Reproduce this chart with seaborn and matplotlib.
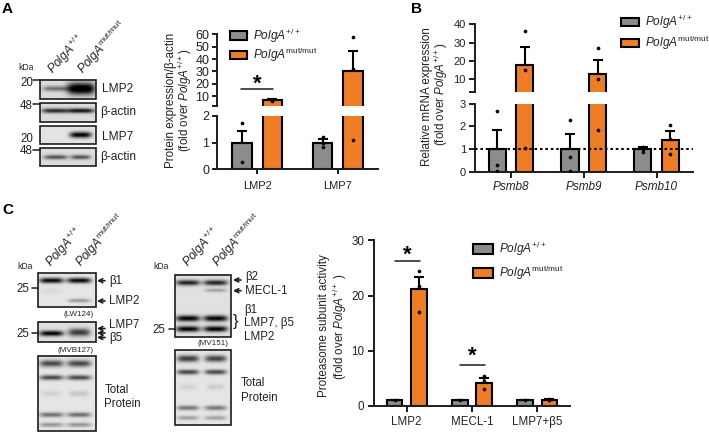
import numpy as np
import pandas as pd
import matplotlib
matplotlib.use("Agg")
import matplotlib.pyplot as plt
from matplotlib.patches import Patch, Rectangle
import seaborn as sns

sns.set_theme(style="ticks")
plt.rcParams.update({
    "font.family": ["Liberation Sans", "DejaVu Sans"],
    "mathtext.fontset": "custom",
    "mathtext.rm": "Liberation Sans",
    "mathtext.it": "Liberation Sans:italic",
    "mathtext.bf": "Liberation Sans:bold",
    "text.color": "#222222",
})

W, H = 709, 434
GENO = ["wt", "mut"]
WT_LABEL = r"$\mathit{PolgA}^{+/+}$"
MUT_LABEL = r"$\mathit{PolgA}^{\mathrm{mut/mut}}$"
GRAY, ORANGE, INK = "#8c8c8c", "#ee7d26", "#1c1c1c"

# Panel A values
a_groups = ["LMP2", "LMP7"]
a_wt = [1.0, 1.0]
a_mut = [6.5, 30.3]
a_wt_top = [1.43, 1.12]
a_mut_top = [7.5, 46.7]
a_wt_pts = [[1.72, 0.25], [1.2, 1.0, 0.83]]
a_mut_pts = [[7.0, 6.2], [58.0, 32.0, 1.11]]

# Panel B values
b_groups = ["Psmb8", "Psmb9", "Psmb10"]
b_wt = [1.0, 1.0, 1.0]
b_mut = [17.6, 12.9, 1.42]
b_wt_top = [1.85, 1.65, 1.07]
b_mut_top = [27.8, 20.4, 1.8]
b_wt_pts = [[2.68, 0.28, 0.03], [2.27, 0.63, 0.05], [1.1, 0.88, 1.02]]
b_mut_pts = [[36.3, 15.4, 1.05], [26.9, 10.2, 1.83], [2.05, 1.45, 0.78]]

# Panel C values
c_groups = ["LMP2", "MECL-1", "LMP7+β5"]
c_wt = [1.0, 1.0, 1.0]
c_mut = [21.2, 4.2, 1.1]
c_wt_top = [1.1, 1.1, 1.1]
c_mut_top = [23.4, 5.0, 1.3]
c_wt_pts = [[1.0], [1.0], [1.0]]
c_mut_pts = [[24.5, 21.8, 17.0], [5.4, 4.5, 3.0], [1.25, 1.1, 1.0]]


def rect(l, t, r, b):
    return [l / W, 1 - b / H, (r - l) / W, (b - t) / H]


fig = plt.figure(figsize=(W / 100, H / 100), dpi=100)
pix = fig.add_axes([0, 0, 1, 1], zorder=5)
pix.patch.set_alpha(0)
pix.axis("off")


def bars(ax, lim, groups, wt, mut, wt_top, mut_top, wt_pts, mut_pts, width, gap, lw):
    df = pd.DataFrame({
        "group": groups * 2,
        "genotype": ["wt"] * len(groups) + ["mut"] * len(groups),
        "value": list(wt) + list(mut),
    })
    sns.barplot(data=df, x="group", y="value", hue="genotype", hue_order=GENO,
                order=groups, palette={"wt": GRAY, "mut": ORANGE}, saturation=1,
                width=width, gap=gap, edgecolor="black", linewidth=lw,
                errorbar=None, legend=False, ax=ax)
    patches = [p for p in ax.patches if p.get_width() > 0]
    n = len(groups)
    for k, (tops, pts) in enumerate([(wt_top, wt_pts), (mut_top, mut_pts)]):
        for i in range(n):
            p = patches[k * n + i]
            xc = p.get_x() + p.get_width() / 2
            mean = p.get_height()
            if mean < lim[0]:
                p.set_visible(False)
            if lim[0] <= tops[i] and mean <= lim[1]:
                ax.errorbar([xc], [mean], yerr=[[0], [tops[i] - mean]], color="black",
                            lw=lw, capsize=3.7, capthick=lw, zorder=4)
            shown = [v for v in pts[i] if lim[0] <= v <= lim[1]]
            ax.scatter([xc] * len(shown), shown, s=7, color="black", zorder=6,
                       linewidths=0)
    ax.set_xlabel("")
    ax.set_ylabel("")
    ax.set_xlim(-0.5, n - 0.5)


def style(ax, size=8.3, lw=1.4, tl=4.3):
    sns.despine(ax=ax)
    for s in ax.spines.values():
        s.set_linewidth(lw)
        s.set_color(INK)
    ax.tick_params(axis="both", length=tl, width=lw, color=INK, labelsize=size,
                   labelcolor="#222222", pad=2)
    ax.patch.set_alpha(0)


def broken(box_hi, box_lo, lo_lim, hi_lim, lo_ticks, hi_ticks, data, width, gap,
           size, xsize, xpad, tl, italic=False):
    lo = fig.add_axes(rect(*box_lo))
    hi = fig.add_axes(rect(*box_hi))
    for ax, lim in ((lo, lo_lim), (hi, hi_lim)):
        bars(ax, lim, *data, width, gap, 1.5)
        style(ax, size=size, tl=tl)
    lo.set_ylim(*lo_lim)
    hi.set_ylim(*hi_lim)
    lo.set_yticks(lo_ticks)
    hi.set_yticks(hi_ticks)
    hi.set_yticklabels([""] + [str(t) for t in hi_ticks[1:]])
    hi.spines["bottom"].set_visible(False)
    hi.tick_params(axis="x", bottom=False, labelbottom=False)
    lo.tick_params(axis="x", pad=xpad, labelsize=xsize)
    if italic:
        for t in lo.get_xticklabels():
            t.set_fontstyle("italic")
    return lo, hi


def legend(x, y, spacing, hl, hh):
    fig.legend(handles=[Patch(facecolor=GRAY, edgecolor="black", linewidth=1.5, label=WT_LABEL),
                        Patch(facecolor=ORANGE, edgecolor="black", linewidth=1.5, label=MUT_LABEL)],
               loc="upper left", bbox_to_anchor=(x / W, 1 - y / H), frameon=False,
               fontsize=8.6, labelspacing=spacing, handlelength=hl, handleheight=hh,
               handletextpad=0.48, borderpad=0, borderaxespad=0)


# Panel A chart
a_lo, a_hi = broken((217, 34.3, 378, 106), (217, 116, 378, 169), (0, 2), (2, 60),
                    [0, 1, 2], [2, 10, 20, 30, 40, 50, 60],
                    (a_groups, a_wt, a_mut, a_wt_top, a_mut_top, a_wt_pts, a_mut_pts), 0.75, 0.36,
                    size=9, xsize=8, xpad=5, tl=3.6)
legend(230, 26.5, 0.1, 1.43, 0.71)

# Panel B chart
b_lo, b_hi = broken((474.7, 24.3, 693, 92.3), (474.7, 103.7, 693, 171.7), (0, 3), (3, 40),
                    [0, 1, 2, 3], [3, 10, 20, 30, 40],
                    (b_groups, b_wt, b_mut, b_wt_top, b_mut_top, b_wt_pts, b_mut_pts), 0.76, 0.38,
                    size=8, xsize=8.5, xpad=2.5, tl=4.3, italic=True)
b_lo.axhline(1, color="black", lw=1.5, ls=(0, (1.2, 1.4)), zorder=7)
legend(621, 13, 0.235, 1.5, 0.71)

# Panel C chart
c_ax = fig.add_axes(rect(374, 240.3, 570, 406))
bars(c_ax, (0, 30), c_groups, c_wt, c_mut, c_wt_top, c_mut_top, c_wt_pts, c_mut_pts, 0.74, 0.35, 1.5)
style(c_ax, size=8.4)
c_ax.set_ylim(0, 30)
c_ax.set_yticks([0, 10, 20, 30])
c_ax.tick_params(axis="x", pad=3, labelsize=8.3)
c_ax.tick_params(axis="y", pad=2.7)
legend(473, 240, 0.47, 1.68, 0.84)


def txt(x, y, s, size=8.3, **kw):
    kw.setdefault("ha", "left")
    kw.setdefault("va", "center")
    pix.text(x, y, s, fontsize=size, **kw)


def blot(box, bands, bg=0.86):
    l, t, r, b = box
    xs = np.linspace(l, r, int((r - l) * 3))
    ys = np.linspace(t, b, int((b - t) * 3))
    X, Y = np.meshgrid(xs, ys)
    img = np.full(X.shape, float(bg))
    for cx, cy, hw, sy, d in bands:
        img -= d * np.exp(-((X - cx) / hw) ** 4) * np.exp(-((Y - cy) / sy) ** 2)
    pix.imshow(np.clip(img, 0, 1), cmap="gray", vmin=0, vmax=1, extent=(l, r, b, t),
               aspect="auto", interpolation="bilinear", zorder=1)
    pix.add_patch(Rectangle((l, t), r - l, b - t, fill=False, ec=INK, lw=1.2, zorder=2))


def tick(x0, x1, y):
    pix.plot([x0, x1], [y, y], color=INK, lw=1.1, zorder=2)


def arrow(x0, x1, y, y1=None):
    pix.annotate("", xy=(x0, y), xytext=(x1, y if y1 is None else y1),
                 arrowprops=dict(arrowstyle="->", lw=1.2, color=INK, mutation_scale=7,
                                 shrinkA=0, shrinkB=0), zorder=3)


def rot(x, y, s, size=8.7):
    txt(x, y, s, size=size, rotation=48, rotation_mode="anchor", ha="left", va="baseline")


def vlabel(x, y, s):
    txt(x, y, s, size=8.4, rotation=90, ha="center")


# Panel letters
txt(2, 9, "A", size=11, fontweight="bold", color="black")
txt(411, 9, "B", size=11, fontweight="bold", color="black")
txt(2, 210, "C", size=11, fontweight="bold", color="black")

# Axis titles
vlabel(170.7, 100, "Protein expression/β-actin")
vlabel(184.5, 100, "(fold over " + WT_LABEL + ")")
vlabel(426.7, 96.7, "Relative mRNA expression")
vlabel(441, 94, "(fold over " + WT_LABEL + ")")
vlabel(324.5, 326, "Proteasome subunit activity")
vlabel(339.5, 327, "(fold over " + WT_LABEL + " )")

# Significance marks
for x0, x1, yl, xs, ys in [(241, 273, 89, 257.7, 84), (395, 420, 260.7, 407.7, 255),
                           (459.5, 485, 365.3, 472, 356.5)]:
    pix.plot([x0, x1], [yl, yl], color=INK, lw=1.1)
    pix.text(xs, ys, "*", fontsize=16, fontweight="bold", ha="center", va="center", color="black")

# Panel A blots
blot((40.3, 79.7, 96.3, 99), [(56, 89, 13, 2.6, .42), (81.5, 89, 14, 5.8, 1.0)])
blot((40.3, 103.3, 96.3, 122.3), [(55, 111, 13, 2.4, .7), (81, 111, 14, 2.4, .8)])
blot((40.3, 126.3, 96.3, 144), [(81, 135, 11, 3, .9)], bg=.89)
blot((40.3, 148, 96.3, 165.7), [(56, 157, 12, 2.2, .55), (81, 157, 10, 2.2, .55)])
tick(33, 40.3, 80); tick(33, 40.3, 104); tick(33, 40.3, 150)
txt(18, 68, "kDa", size=6.2)
for y, s in [(83, "20"), (106, "48"), (138.5, "20"), (151, "48")]:
    txt(33, y, s, ha="right", size=8.3)
txt(102, 89, "LMP2", size=8.6); txt(100, 112, "β-actin", size=8.6)
txt(102, 137, "LMP7", size=8.6); txt(100, 157, "β-actin", size=8.6)
rot(53, 75, WT_LABEL); rot(83, 75, MUT_LABEL)

# Panel C first lane column
blot((38.3, 273.3, 96, 307.3), [(51.7, 280.7, 12, 2.7, .88), (79.3, 280.7, 12, 2.7, .88),
                               (79.3, 301, 11, 2, .3), (51.7, 291, 10, 3, .05)], bg=.9)
blot((38.3, 322, 96, 342.3), [(51.7, 334, 12, 2.7, .88), (79.3, 333, 11, 3.8, .65)], bg=.88)
blot((38.3, 355.7, 96, 431), [(51.7, 364, 12, 3.4, .62), (79.3, 364, 12, 3.4, .62),
                             (51.7, 378, 12, 2.5, .62), (79.3, 378, 12, 2.5, .62),
                             (51.7, 394, 10, 3, .08), (79.3, 394, 10, 3, .12),
                             (51.7, 415, 12, 2.4, .47), (79.3, 415, 12, 2.4, .47),
                             (51.7, 425, 12, 2.2, .32), (79.3, 425, 12, 2.2, .32)], bg=.9)
tick(31.7, 38.3, 287.7); tick(31.7, 38.3, 333)
txt(17, 266.7, "kDa", size=6.2)
txt(29, 288.5, "25", ha="right"); txt(29, 334, "25", ha="right")
arrow(97, 105, 280.7); arrow(97, 105, 301)
arrow(97, 105, 328.5); arrow(97, 105, 333); arrow(97, 105, 337.5)
txt(109, 280.7, "β1"); txt(109, 301, "LMP2"); txt(109, 325, "LMP7"); txt(109, 337.5, "β5")
txt(78.7, 314.3, "(LW124)", size=5.8, ha="center"); txt(76, 350, "(MVB127)", size=5.8, ha="center")
txt(104.3, 389.7, "Total"); txt(104.3, 403.7, "Protein")
rot(51, 268, WT_LABEL); rot(81, 268, MUT_LABEL)

# Panel C second lane column
blot((175, 275, 231, 337.3), [(188, 283.5, 12, 2.7, .75), (215.7, 283.5, 12, 2.7, .75),
                             (215.7, 291, 11, 1.8, .25),
                             (188, 319, 12, 3, .88), (215.7, 319, 12, 3, .88),
                             (188, 329.5, 12, 2.9, .88), (215.7, 329.5, 12, 2.9, .88)], bg=.88)
blot((175, 350, 231, 425), [(188, 358.5, 11, 3.4, .67), (215.7, 358.5, 11, 3.4, .64),
                           (188, 372, 11, 2.5, .64), (215.7, 372, 11, 2.5, .62),
                           (188, 387, 9, 3, .08), (215.7, 387, 9, 3, .1),
                           (188, 408, 11, 2.4, .44), (215.7, 408, 11, 2.4, .44),
                           (188, 418, 11, 2.2, .27), (215.7, 418, 11, 2.2, .27)], bg=.9)
tick(169, 175, 329)
txt(153, 266.7, "kDa", size=6.2)
txt(165.6, 330, "25", ha="right")
arrow(233, 241, 280); arrow(233, 241, 290.7)
txt(245, 277, "β2"); txt(245, 290.7, "MECL-1"); txt(244, 310, "β1")
txt(244, 323.3, "LMP7, β5"); txt(244, 337.3, "LMP2")
txt(235.5, 321.5, "}", size=12, ha="center", color=INK)
txt(212.7, 343.3, "(MV151)", size=5.8, ha="center")
txt(240.7, 383.3, "Total"); txt(240.7, 397.7, "Protein")
rot(188, 268, WT_LABEL); rot(218, 268, MUT_LABEL)

pix.set_xlim(0, W)
pix.set_ylim(H, 0)
fig.savefig("out.png", dpi=100)
